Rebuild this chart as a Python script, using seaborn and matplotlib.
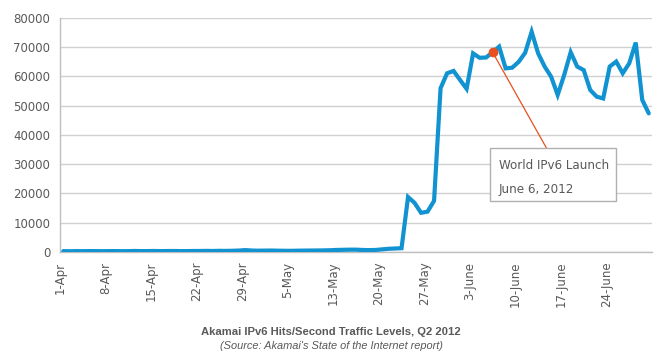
import numpy as np
import pandas as pd
import matplotlib
matplotlib.use("Agg")
import matplotlib.pyplot as plt
import matplotlib.patches as mpatches
import seaborn as sns

# daily hits/second, 1-Apr .. 30-Jun 2012
low_part = [300, 250, 300, 280, 320, 300, 280,
            300, 320, 280, 300, 350, 300, 320,
            350, 300, 330, 350, 300, 320, 340,
            350, 380, 350, 400, 380, 420, 500,
            650, 500, 450, 480, 500, 450, 420,
            400, 450, 480, 500, 520, 550, 600,
            700, 750, 800, 800, 700, 650, 700,
            900, 1100, 1200, 1300]
high_part = [18800, 16800, 13400, 13800, 17500, 56000, 61100, 61900, 58800,
             55800, 67900, 66400, 66500, 68300, 70200, 62800, 63000, 65000,
             68100, 75300, 67900, 63400, 59900, 53700, 60500, 68300, 63400,
             62200, 55400, 53100, 52500, 63400, 65100, 61100, 64500, 71600,
             52000, 47400]
hits = low_part + high_part

tick_labels = ["1-Apr", "8-Apr", "15-Apr", "22-Apr", "29-Apr", "5-May", "13-May",
               "20-May", "27-May", "3-June", "10-June", "17-June", "24-June"]
yticks = [0, 10000, 20000, 30000, 40000, 50000, 60000, 70000, 80000]

launch_day = 66  # June 6
note_lines = ["World IPv6 Launch", "June 6, 2012"]

df = pd.DataFrame({"day": np.arange(len(hits)) + 0.5, "hits": hits})

sns.set_style("white")
plt.rcParams["font.family"] = ["DejaVu Sans"]
grey = "#595959"
blue = "#1192d1"
orange = "#e8501f"

fig = plt.figure(figsize=(6.63, 3.56), dpi=100)
ax = fig.add_axes([60/663, 1 - 252/356, 592/663, 234/356])

sns.lineplot(data=df, x="day", y="hits", ax=ax, color=blue, linewidth=3,
             solid_joinstyle="miter", zorder=3)

ax.set_xlim(0, len(hits))
ax.set_ylim(0, 80000)
ax.set_xticks(np.arange(0, len(hits) + 1, 7))
ax.set_xticklabels(tick_labels + [""], rotation=90, fontsize=8.5, color=grey)
ax.set_yticks(yticks)
ax.set_yticklabels([str(v) for v in yticks], fontsize=8.5, color=grey)
ax.set_xlabel("")
ax.set_ylabel("")
ax.grid(axis="y", color="#d0d0d0", linewidth=1)
ax.tick_params(axis="x", length=4, color="#bfbfbf", pad=3)
ax.tick_params(axis="y", length=4, color="#d0d0d0", pad=3)
for s in ["top", "right"]:
    ax.spines[s].set_visible(False)
for s in ["left", "bottom"]:
    ax.spines[s].set_color("#bfbfbf")
    ax.spines[s].set_linewidth(1)

# launch marker and callout
ax.plot(launch_day + 0.5, hits[launch_day], "o", color=orange, markersize=6, zorder=4)
ax.annotate("", xy=(launch_day + 0.5, hits[launch_day]), xytext=(0.822, 0.443),
            textcoords="axes fraction",
            arrowprops=dict(arrowstyle="-", color=orange, lw=0.9, shrinkA=0, shrinkB=0))
box = mpatches.Rectangle((430/592, 51.3/234), 126/592, 52.4/234, transform=ax.transAxes,
                         facecolor="white", edgecolor="#b0b0b0", linewidth=1, zorder=5)
ax.add_patch(box)
for k, line in enumerate(note_lines):
    ax.text(439/592, (252 - 169 - 24*k)/234, line, transform=ax.transAxes, fontsize=9.5,
            color=grey, va="baseline", ha="left", zorder=6, fontstretch="condensed")

fig.text(331/663, 1 - 335/356, "Akamai IPv6 Hits/Second Traffic Levels, Q2 2012",
         ha="center", va="baseline", fontsize=8.1, fontweight="bold", color=grey,
         family=["Liberation Sans", "DejaVu Sans"])
fig.text(331/663, 1 - 349/356, "(Source: Akamai's State of the Internet report)",
         ha="center", va="baseline", fontsize=7.9, style="italic", color=grey,
         family=["Liberation Sans", "DejaVu Sans"])

fig.savefig("out.png", dpi=100)
